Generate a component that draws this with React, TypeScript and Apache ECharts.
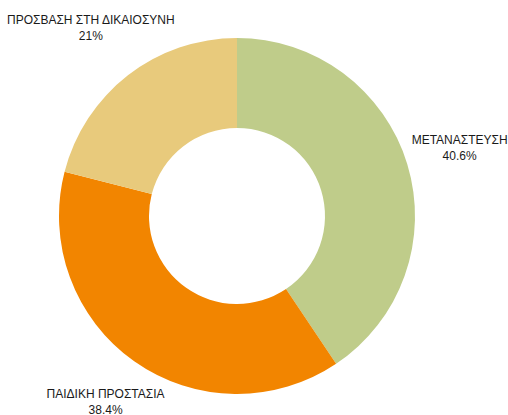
import React, { useEffect, useRef } from "react";
import * as echarts from "echarts";

const categories = ["ΜΕΤΑΝΑΣΤΕΥΣΗ", "ΠΑΙΔΙΚΗ ΠΡΟΣΤΑΣΙΑ", "ΠΡΟΣΒΑΣΗ ΣΤΗ ΔΙΚΑΙΟΣΥΝΗ"];
const values = [40.6, 38.4, 21];
const valueLabels = ["40.6%", "38.4%", "21%"];
const colors = ["#BFCC8A", "#F28500", "#E8CA7C"];

const OUTER = 178;

export default function App() {
  const ref = useRef<HTMLDivElement>(null);
  useEffect(() => {
    if (!ref.current) return;
    const chart = echarts.init(ref.current, undefined, { renderer: "svg" });
    chart.setOption({
      animation: false,
      backgroundColor: "#ffffff",
      series: [
        {
          type: "pie",
          center: [237, 216],
          radius: [88, OUTER],
          startAngle: 90,
          clockwise: true,
          data: categories.map((c, i) => ({
            name: c,
            value: values[i],
            itemStyle: { color: colors[i] },
          })),
          itemStyle: { borderWidth: 0 },
          label: {
            show: true,
            position: "outside",
            formatter: (p: any) => `${p.name}\n${valueLabels[p.dataIndex]}`,
            fontFamily: "'Liberation Sans Narrow', 'Arial Narrow', 'Liberation Sans', sans-serif",
            fontSize: 12,
            lineHeight: 16,
            color: "#1a1a1a",
            align: "center",
            overflow: "none",
            alignTo: "none",
          },
          labelLine: { show: false, length: 20, length2: 0 },
          labelLayout: (params: any) => {
            const pts = params.labelLinePoints;
            if (!pts) return {};
            const dx0 = pts[1][0] - pts[0][0];
            const dy0 = pts[1][1] - pts[0][1];
            const len = Math.sqrt(dx0 * dx0 + dy0 * dy0) || 1;
            const dx = dx0 / len;
            const dy = dy0 / len;
            const w = params.labelRect.width;
            const h = params.labelRect.height;
            const d = OUTER + 24.6 + Math.abs(dx) * w * 0.314 + Math.abs(dy) * h * 0.137;
            return {
              x: 237 + dx * d,
              y: 216 + dy * d,
              align: "center",
              verticalAlign: "middle",
            };
          },
        },
      ],
    });
    return () => chart.dispose();
  }, []);
  return (
    <div
      ref={ref}
      style={{ position: "fixed", left: 0, top: 0, width: 508, height: 415 }}
    />
  );
}
